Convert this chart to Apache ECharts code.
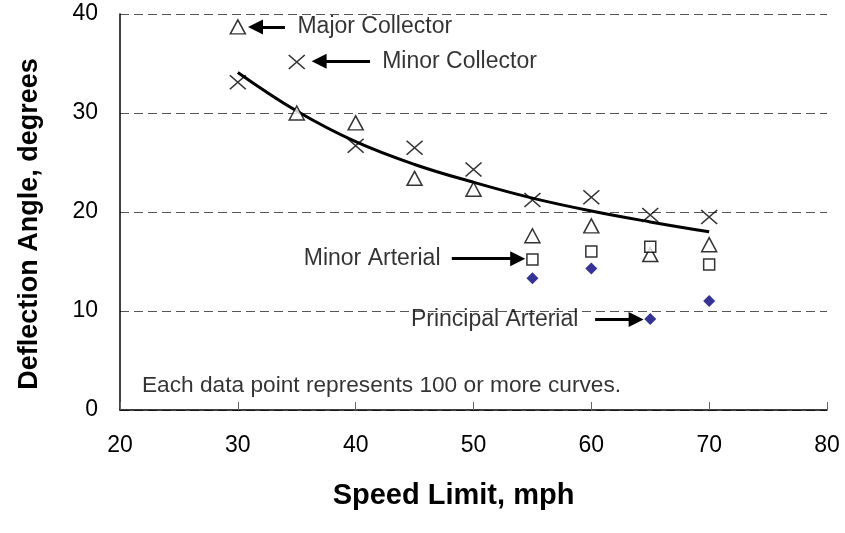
<!DOCTYPE html>
<html>
<head>
<meta charset="utf-8">
<script src="https://cdn.jsdelivr.net/npm/echarts@6/dist/echarts.min.js"></script>
<style>html,body{margin:0;padding:0;background:#fff}#c{width:845px;height:533px}</style>
</head>
<body>
<div id="c"></div>
<script>
// ---- data ----
const speedLimits = [30, 35, 40, 45, 50, 55, 60, 65, 70];
const majorCollector = [38.7, 30.0, 29.0, 23.4, 22.3, 17.6, 18.6, 15.7, 16.7];
const minorCollector = [33.1, 35.15, 26.7, 26.5, 24.3, 21.2, 21.5, 19.7, 19.5];
const arterialSpeeds = [55, 60, 65, 70];
const minorArterial = [15.2, 16.0, 16.5, 14.7];
const principalArterial = [13.3, 14.3, 9.2, 11.0];
const trendValues = [34.1, 30.2, 27.1, 24.8, 23.0, 21.4, 20.1, 19.0, 18.0];
const xTicks = [20, 30, 40, 50, 60, 70, 80];
const yTicks = [0, 10, 20, 30, 40];
// annotation anchors (data coordinates)
const arrowStarts = [[34.0, 38.69], [41.22, 35.22], [48.16, 15.29], [60.32, 9.13]];
const arrowEnds = [[31.5, 38.69], [36.9, 35.22], [53.75, 15.29], [63.8, 9.13]];
const annotationTexts = ['Major Collector', 'Minor Collector', 'Minor Arterial', 'Principal Arterial', 'Each data point represents 100 or more curves.'];
const annotationAnchors = [[35.06, 38.69], [42.25, 35.22], [47.2, 15.29], [58.9, 9.13], [21.86, 2.4]];
const annotationSides = ['right', 'right', 'left', 'left', 'right'];

const FONT = '"Liberation Sans", Arial, sans-serif';
const pair = (xs, ys) => xs.map((x, i) => [x, ys[i]]);

const chart = echarts.init(document.getElementById('c'), null, {renderer: 'canvas'});
chart.setOption({
  animation: false,
  backgroundColor: '#fff',
  grid: {left: 120, top: 14, right: 18, bottom: 123, containLabel: false, outerBoundsMode: 'none'},
  xAxis: {
    type: 'value', min: xTicks[0], max: xTicks[xTicks.length - 1], interval: 10,
    name: 'Speed Limit, mph', nameLocation: 'middle', nameGap: 71,
    nameTextStyle: {fontFamily: FONT, fontWeight: 'bold', fontSize: 29, color: '#000', padding: [0, 40, 0, 0]},
    axisLine: {lineStyle: {color: '#000', width: 1.5}},
    axisTick: {show: true, inside: true, length: 8, lineStyle: {color: '#666', width: 1}},
    axisLabel: {fontFamily: FONT, fontSize: 23, color: '#000', margin: 24},
    splitLine: {show: false}
  },
  yAxis: {
    type: 'value', min: yTicks[0], max: yTicks[yTicks.length - 1], interval: 10,
    name: 'Deflection Angle, degrees', nameLocation: 'middle', nameGap: 77,
    nameTextStyle: {fontFamily: FONT, fontWeight: 'bold', fontSize: 27, color: '#000', padding: [0, 24, 0, 0]},
    axisLine: {show: true, lineStyle: {color: '#000', width: 1.5}},
    axisTick: {show: false},
    axisLabel: {fontFamily: FONT, fontSize: 23, color: '#000', margin: 22},
    splitLine: {show: true, lineStyle: {color: '#555', width: 1, type: [9, 5]}}
  },
  series: [
    {
      name: 'Trend', type: 'line', data: pair(speedLimits, trendValues), smooth: 0.4,
      symbol: 'none', lineStyle: {color: '#000', width: 3}, z: 3
    },
    {
      name: 'Major Collector', type: 'scatter', data: pair(speedLimits, majorCollector),
      symbol: 'triangle', symbolSize: [15, 14],
      itemStyle: {color: '#fff', borderColor: '#000', borderWidth: 1.5}, z: 4
    },
    {
      name: 'Minor Collector', type: 'scatter', data: pair(speedLimits, minorCollector),
      symbol: 'path://M0,0L10,10M10,0L0,10', symbolSize: [16, 14], symbolKeepAspect: false,
      itemStyle: {color: 'none', borderColor: '#000', borderWidth: 1.5}, z: 4
    },
    {
      name: 'Minor Arterial', type: 'scatter', data: pair(arterialSpeeds, minorArterial),
      symbol: 'rect', symbolSize: [11, 11],
      itemStyle: {color: '#fff', borderColor: '#000', borderWidth: 1.5}, z: 4
    },
    {
      name: 'Principal Arterial', type: 'scatter', data: pair(arterialSpeeds, principalArterial),
      symbol: 'diamond', symbolSize: [12, 12],
      itemStyle: {color: '#000080', borderWidth: 0}, z: 4
    },
    {
      name: 'Annotations', type: 'scatter', symbolSize: 0, silent: true, z: 5,
      data: annotationAnchors.map((p, i) => ({
        value: p,
        label: {show: true, position: annotationSides[i], distance: 0, formatter: annotationTexts[i],
          fontFamily: FONT, fontSize: i === 4 ? 22.7 : 23, color: '#000'}
      })),
      markLine: {
        silent: true, symbol: ['none', 'triangle'], symbolSize: [15, 15],
        label: {show: false},
        lineStyle: {color: '#000', width: 3, type: 'solid'},
        data: arrowStarts.map((s, i) => [{coord: s}, {coord: arrowEnds[i]}])
      }
    }
  ]
});
</script>
</body>
</html>
